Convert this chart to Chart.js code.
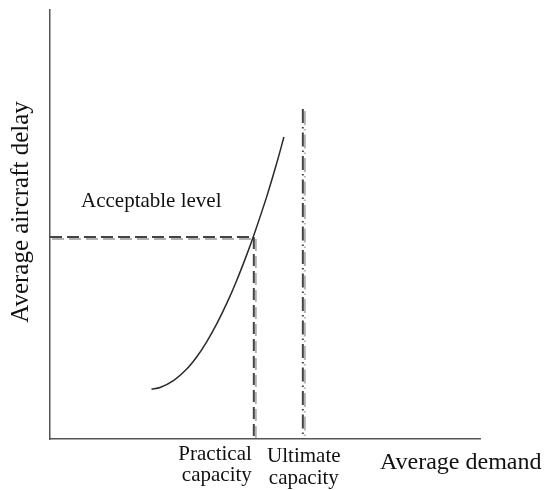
<!DOCTYPE html>
<html>
<head>
<meta charset="utf-8">
<script src="https://cdn.jsdelivr.net/npm/chart.js@4.4.1/dist/chart.umd.min.js"></script>
<style>
html,body{margin:0;padding:0;background:#fff;}
#wrap{width:552px;height:490px;position:relative;}
</style>
</head>
<body>
<div id="wrap"><canvas id="c" width="552" height="490"></canvas></div>
<script>
// Delay curve (x = average demand, y = average delay), arbitrary units 0..100
const curveX = [23.6, 25.6, 28.7, 31.8, 34.1, 36.4, 38.8, 41.1, 43.4, 45.7, 47.3, 50.4, 52.7, 54.4];
const curveY = [11.6, 12.0, 13.6, 16.3, 19.1, 22.6, 26.9, 31.6, 36.9, 42.8, 47.2, 56.5, 64.2, 70.4];
const practicalCapacity = 47.4;
const acceptableLevel = 47.1;
const ultimateCapacity = 58.8;
const ultimateTop = 76.9;
const axisMin = 0, axisMax = 100;
const labels = {
  yTitle: 'Average aircraft delay',
  xTitle: 'Average demand',
  level: 'Acceptable level',
  practical: ['Practical', 'capacity'],
  ultimate: ['Ultimate', 'capacity']
};

const curveData = curveX.map((x, i) => ({x, y: curveY[i]}));
const levelData = [{x: axisMin, y: acceptableLevel}, {x: practicalCapacity, y: acceptableLevel}];
const practicalData = [{x: practicalCapacity, y: acceptableLevel}, {x: practicalCapacity, y: axisMin}];
const ultimateData = [{x: ultimateCapacity, y: ultimateTop}, {x: ultimateCapacity, y: axisMin}];

const SERIF = "'Liberation Serif', 'Times New Roman', serif";

const shadowPlugin = {
  id: 'shadow',
  beforeDatasetDraw(chart, args) {
    const ds = chart.data.datasets[args.index];
    chart.ctx.save();
    if (ds.shadow) {
      chart.ctx.shadowColor = 'rgba(170,170,170,0.9)';
      chart.ctx.shadowOffsetX = 2;
      chart.ctx.shadowOffsetY = 2;
      chart.ctx.shadowBlur = 0;
    }
  },
  afterDatasetDraw(chart) { chart.ctx.restore(); }
};

const textPlugin = {
  id: 'texts',
  afterDraw(chart) {
    const ctx = chart.ctx;
    const xs = chart.scales.x, ys = chart.scales.y;
    ctx.save();
    ctx.fillStyle = '#111';
    ctx.textBaseline = 'alphabetic';
    // y title
    ctx.save();
    ctx.translate(28, 212);
    ctx.rotate(-Math.PI / 2);
    ctx.font = '25px ' + SERIF;
    ctx.textAlign = 'center';
    ctx.fillText(labels.yTitle, 0, 0);
    ctx.restore();
    // acceptable level
    ctx.font = '21px ' + SERIF;
    ctx.textAlign = 'left';
    ctx.fillText(labels.level, 81, ys.getPixelForValue(acceptableLevel) - 30);
    // practical capacity
    const px = xs.getPixelForValue(practicalCapacity);
    ctx.textAlign = 'right';
    ctx.fillText(labels.practical[0], px - 2, 460);
    ctx.fillText(labels.practical[1], px - 2, 481);
    // ultimate capacity
    const ux = xs.getPixelForValue(ultimateCapacity);
    ctx.textAlign = 'center';
    ctx.fillText(labels.ultimate[0], ux + 1, 462);
    ctx.fillText(labels.ultimate[1], ux + 1, 484);
    // x title
    ctx.font = '24px ' + SERIF;
    ctx.textAlign = 'left';
    ctx.fillText(labels.xTitle, 380, 469);
    ctx.restore();
  }
};

new Chart(document.getElementById('c'), {
  type: 'scatter',
  data: {
    datasets: [
      {data: curveData, showLine: true, borderColor: '#2a2a2a', borderWidth: 1.5, pointRadius: 0, tension: 0.3},
      {data: levelData, showLine: true, borderColor: '#444', borderWidth: 2, borderDash: [12, 5], pointRadius: 0, shadow: true},
      {data: practicalData, showLine: true, borderColor: '#444', borderWidth: 2, borderDash: [12, 5], pointRadius: 0, shadow: true},
      {data: ultimateData, showLine: true, borderColor: '#444', borderWidth: 2, borderDash: [14, 4, 1.5, 4], pointRadius: 0, shadow: true}
    ]
  },
  options: {
    responsive: false,
    animation: false,
    devicePixelRatio: 1,
    layout: {padding: {left: 42, right: 72, top: 10, bottom: 43}},
    plugins: {legend: {display: false}, tooltip: {enabled: false}},
    scales: {
      x: {type: 'linear', min: axisMin, max: axisMax, grid: {display: false}, ticks: {display: false}, border: {display: true, color: '#555', width: 1.5}},
      y: {type: 'linear', min: axisMin, max: axisMax, grid: {display: false}, ticks: {display: false}, border: {display: true, color: '#555', width: 1.5}}
    }
  },
  plugins: [shadowPlugin, textPlugin]
});
</script>
</body>
</html>
